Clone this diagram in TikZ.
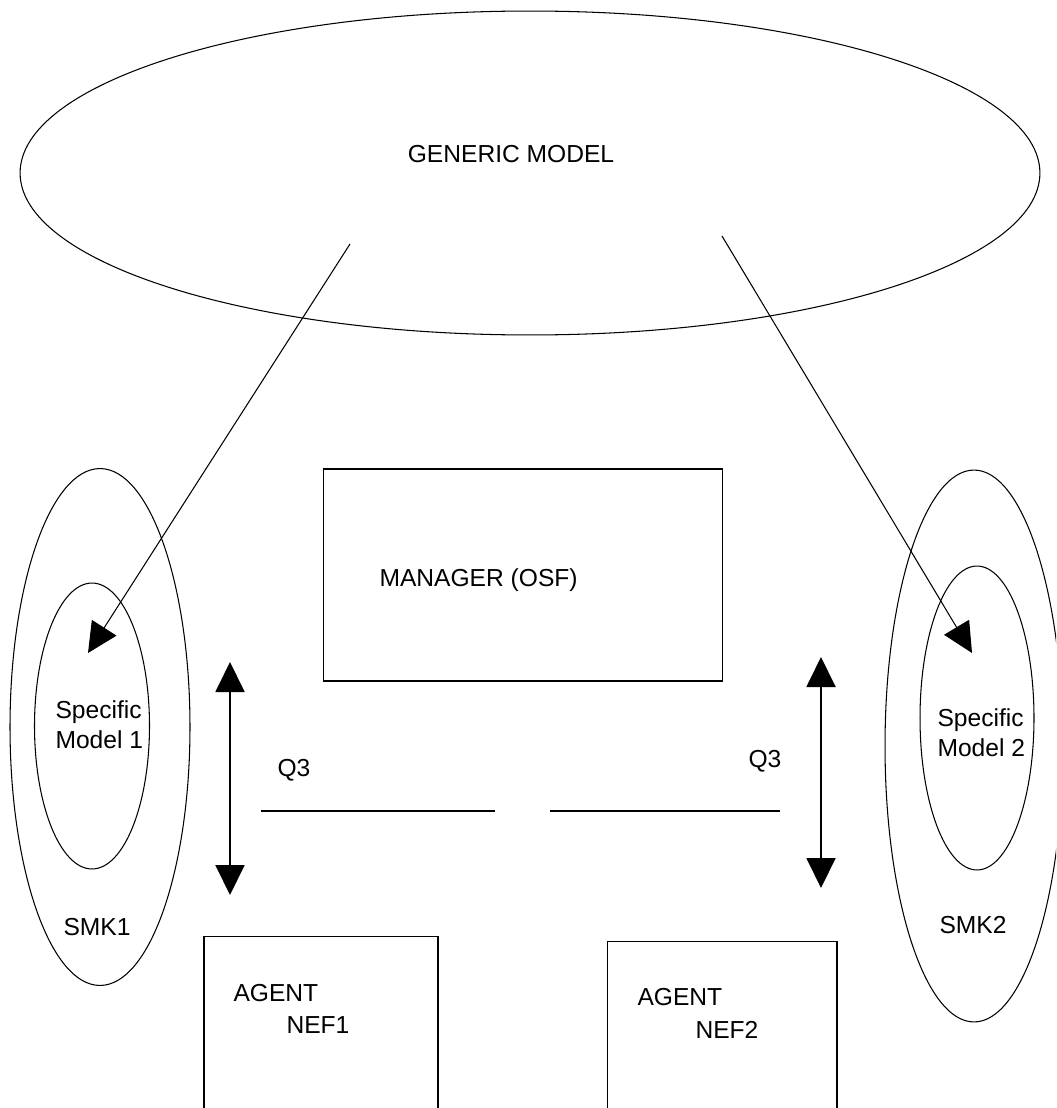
\documentclass[tikz,border=0pt]{standalone}
\usepackage{fontspec}
\setmainfont{Liberation Sans}
\usepackage{tikz}
\usetikzlibrary{arrows.meta,shapes}

\begin{document}
\begin{tikzpicture}[x=0.02cm,y=-0.02cm,
		line width=0.6pt,
		every node/.style={font=\fontsize{14}{17}\selectfont},
		oval/.style={draw,ellipse,inner sep=0pt},
		box/.style={draw,rectangle,inner sep=0pt},
		txt/.style={anchor=west,inner sep=0pt,align=left},
		feed/.style={-{Triangle[length=0.6cm,width=0.58cm]}},
		q3/.style={{Triangle[length=0.6cm,width=0.58cm]}-{Triangle[length=0.6cm,width=0.58cm]},line width=1.1pt}]
		\useasboundingbox (0,0) rectangle (1056,1108);
		\clip (0,0) rectangle (1056,1108);
		\node[oval,minimum width=20.4cm,minimum height=6.48cm] (GM) at (530,173) {};
		\node (GMtxt) at (511,154) {GENERIC MODEL};
		\node[oval,minimum width=3.6cm,minimum height=10.34cm] (SMK1) at (100,727) {};
		\node[oval,minimum width=2.3cm,minimum height=5.72cm] (SM1) at (92,726) {};
		\node[oval,minimum width=3.56cm,minimum height=11.04cm] (SMK2) at (974,746) {};
		\node[oval,minimum width=2.28cm,minimum height=6.08cm] (SM2) at (977,718) {};
		\node[txt] (SM1txt) at (55,725) {Specific\\Model 1};
		\node[txt] (SM2txt) at (937,733) {Specific\\Model 2};
		\node (SMK1txt) at (97,927) {SMK1};
		\node (SMK2txt) at (973,925) {SMK2};
		\node[box,minimum width=8cm,minimum height=4.24cm] (MGR) at (523,575) {};
		\node[txt] (MGRtxt) at (379,580) {MANAGER (OSF)};
		\node[box,minimum width=4.68cm,minimum height=4.48cm] (AG1) at (321,1048) {};
		\node[box,minimum width=4.6cm,minimum height=4.36cm] (AG2) at (722,1050) {};
		\node[txt] (AG1a) at (233,993) {AGENT};
		\node[txt] (AG1b) at (286,1025) {NEF1};
		\node[txt] (AG2a) at (637,997) {AGENT};
		\node[txt] (AG2b) at (695,1030) {NEF2};
		\node[txt] (Q3a) at (277,770) {Q3};
		\node[txt] (Q3b) at (748,761) {Q3};
		% model links
		\coordinate (g1) at (350,244);
		\coordinate (s1) at (88,653);
		\coordinate (g2) at (722,236);
		\coordinate (s2) at (972,653);
		\draw[feed] (g1) -- (s1);
		\draw[feed] (g2) -- (s2);
		% Q3 interfaces
		\coordinate (u1) at (230,662);
		\coordinate (d1) at (230,895);
		\coordinate (u2) at (821,657);
		\coordinate (d2) at (821,888);
		\draw[q3] (u1) -- (d1);
		\draw[q3] (u2) -- (d2);
		\coordinate (h1) at (261,811);
		\coordinate (h2) at (495,811);
		\coordinate (h3) at (550,811);
		\coordinate (h4) at (780,811);
		\draw[line width=1.1pt] (h1) -- (h2);
		\draw[line width=1.1pt] (h3) -- (h4);
	\end{tikzpicture}
\end{document}
